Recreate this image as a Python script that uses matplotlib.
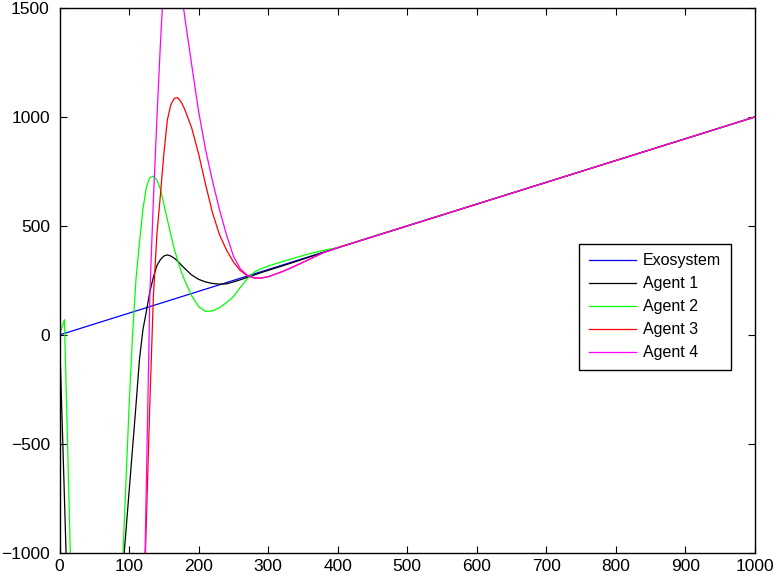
import matplotlib
matplotlib.use("Agg")
import matplotlib.pyplot as plt

plt.rcParams['font.family'] = ['Liberation Sans', 'DejaVu Sans']

# time samples shared by the agent trajectories
t = [0, 7, 14, 20, 40, 60, 80, 90, 100, 105, 110, 115, 120, 125, 130, 135,
     140, 145, 150, 155, 160, 165, 170, 175, 180, 190, 200, 210, 220, 230,
     240, 250, 260, 270, 280, 290, 300, 320, 340, 360, 380, 400, 1000]

# exosystem reference trajectory
exo_t = [0, 1000]
exo_y = [0, 1000]

agent1 = [0, -740, -1500, -2100, -2900, -2600, -1520, -1120, -720, -520, -320,
          -110, 25, 110, 200, 265, 318, 345, 362, 367, 362, 352, 338, 321, 305,
          275, 255, 243, 236, 233, 234, 243, 253, 264, 275, 286, 296, 316, 337,
          358, 379, 400, 1000]

agent2 = [0, 70, -800, -1600, -2800, -2900, -2000, -1100, -330, 0, 257, 425,
          578, 680, 722, 728, 710, 670, 600, 530, 460, 395, 340, 290, 250, 180,
          130, 108, 110, 125, 148, 175, 218, 258, 288, 304, 316, 336, 355, 373,
          388, 401, 1000]

agent3 = [0, -30000, -35000, -30000, -20000, -12000, -6000, -4500, -3500,
          -3000, -2500, -2000, -1380, -840, -300, 180, 460, 640, 830, 985, 1055,
          1085, 1088, 1068, 1035, 950, 830, 690, 560, 460, 390, 335, 295, 271,
          261, 261, 267, 290, 318, 348, 378, 400, 1000]

agent4 = [0, -30000, -35000, -30000, -20000, -12000, -6000, -4500, -3500,
          -3000, -2500, -2100, -1513, -658, 198, 620, 991, 1330, 1627, 1800,
          1870, 1840, 1720, 1580, 1460, 1240, 1025, 850, 705, 575, 460, 362,
          303, 274, 262, 261, 267, 290, 318, 348, 378, 400, 1000]

series = [
    ("Exosystem", exo_t, exo_y, (0, 0, 1)),
    ("Agent 1", t, agent1, (0, 0, 0)),
    ("Agent 2", t, agent2, (0, 1, 0)),
    ("Agent 3", t, agent3, (1, 0, 0)),
    ("Agent 4", t, agent4, (1, 0, 1)),
]

xticks = [0, 100, 200, 300, 400, 500, 600, 700, 800, 900, 1000]
yticks = [-1000, -500, 0, 500, 1000, 1500]

fig = plt.figure(figsize=(7.73, 5.83), dpi=100)
ax = fig.add_axes([0.077, 0.0515, 0.8997, 0.935])

for label, xs, ys, color in series:
    ax.plot(xs, ys, color=color, linewidth=0.9, label=label)

ax.set_xlim(0, 1000)
ax.set_ylim(-1000, 1500)
ax.set_xticks(xticks)
ax.set_yticks(yticks)
ax.set_xticklabels([str(v) for v in xticks])
ax.set_yticklabels([str(v).replace('-', '\u2212') for v in yticks])
ax.tick_params(direction='in', top=True, right=True, length=5, width=0.8,
               labelsize=12.5)
ax.tick_params(axis='y', pad=7)
ax.tick_params(axis='x', pad=4)
for sp in ax.spines.values():
    sp.set_linewidth(1.0)

leg = ax.legend(loc='upper left', bbox_to_anchor=(0.747, 0.567),
                fontsize=11.5, frameon=True, fancybox=False, framealpha=1,
                edgecolor='black', handlelength=2.95, borderpad=0.6,
                labelspacing=0.5, handletextpad=0.45, borderaxespad=0)
leg.get_frame().set_linewidth(1.0)

fig.savefig("out.png", dpi=100)
